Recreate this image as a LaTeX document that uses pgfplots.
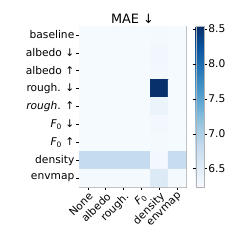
\documentclass[border=0pt]{standalone}
\usepackage{pgfplots}
\pgfplotsset{compat=1.18}
\usepackage{fontspec}
\setmainfont{DejaVu Sans}
\pgfplotstableread{
x y c
0 0 6.26
1 0 6.26
2 0 6.26
3 0 6.26
4 0 6.27
5 0 6.26
0 1 6.26
1 1 6.26
2 1 6.26
3 1 6.26
4 1 6.31
5 1 6.26
0 2 6.26
1 2 6.26
2 2 6.26
3 2 6.26
4 2 6.30
5 2 6.26
0 3 6.26
1 3 6.26
2 3 6.26
3 3 6.26
4 3 8.54
5 3 6.26
0 4 6.26
1 4 6.26
2 4 6.26
3 4 6.26
4 4 6.38
5 4 6.26
0 5 6.26
1 5 6.26
2 5 6.26
3 5 6.26
4 5 6.29
5 5 6.26
0 6 6.26
1 6 6.26
2 6 6.26
3 6 6.26
4 6 6.28
5 6 6.26
0 7 6.82
1 7 6.82
2 7 6.82
3 7 6.82
4 7 6.29
5 7 6.80
0 8 6.27
1 8 6.27
2 8 6.27
3 8 6.27
4 8 6.55
5 8 6.27
}\maedata
\begin{document}
\begin{tikzpicture}[x=1bp,y=1bp]
\useasboundingbox (0,0) rectangle (240,240);
\begin{axis}[
  at={(79bp,53bp)}, anchor=south west,
  scale only axis, width=107bp, height=161bp,
  xmin=-0.5, xmax=5.5, ymin=-0.5, ymax=8.5,
  y dir=reverse,
  axis line style={draw=black!30},
  enlargelimits=false,
  colormap={blues}{rgb255=(247,251,255) rgb255=(222,235,247) rgb255=(198,219,239) rgb255=(158,202,225) rgb255=(107,174,214) rgb255=(66,146,198) rgb255=(33,113,181) rgb255=(8,81,156) rgb255=(8,48,107)},
  point meta min=6.24, point meta max=8.54,
  xtick={0,...,5}, ytick={0,...,8},
  xticklabels={None,albedo,rough.,{\itshape F}\textsubscript{0},density,envmap},
  yticklabels={baseline,albedo ↓,albedo ↑,rough. ↓,{\itshape rough}. ↑,{\itshape F}\textsubscript{0} ↓,{\itshape F}\textsubscript{0} ↑,density,envmap},
  tick align=outside, tick pos=left,
  major tick length=3bp,
  tick style={black, line width=0.6pt},
  ticklabel style={font=\fontsize{10.7}{11}\selectfont},
  xticklabel style={rotate=45, anchor=north east, inner sep=1pt},
  yticklabel style={inner sep=1.5pt},
  title={MAE ↓},
  every axis title/.style={at={(0.5,1)}, anchor=base, yshift=3bp, font=\fontsize{12.9}{13}\selectfont},
  colorbar,
  colorbar style={
    width=8bp,
    xshift=1bp,
    ytick={6.5,7.0,7.5,8.0,8.5},
    yticklabel style={/pgf/number format/.cd, fixed, fixed zerofill, precision=1, /tikz/.cd, font=\fontsize{10.7}{11}\selectfont, inner sep=1.5pt},
    /pgf/number format/assume math mode=true,
    axis line style={draw=black!30},
    tick align=outside,
    major tick length=3bp,
    tick style={black, line width=0.6pt},
  },
  /pgf/number format/assume math mode=true,
]
\addplot[matrix plot*, mesh/cols=6, point meta=explicit, draw=none] table[x=x, y=y, meta=c] {\maedata};
\end{axis}
\end{tikzpicture}
\end{document}
